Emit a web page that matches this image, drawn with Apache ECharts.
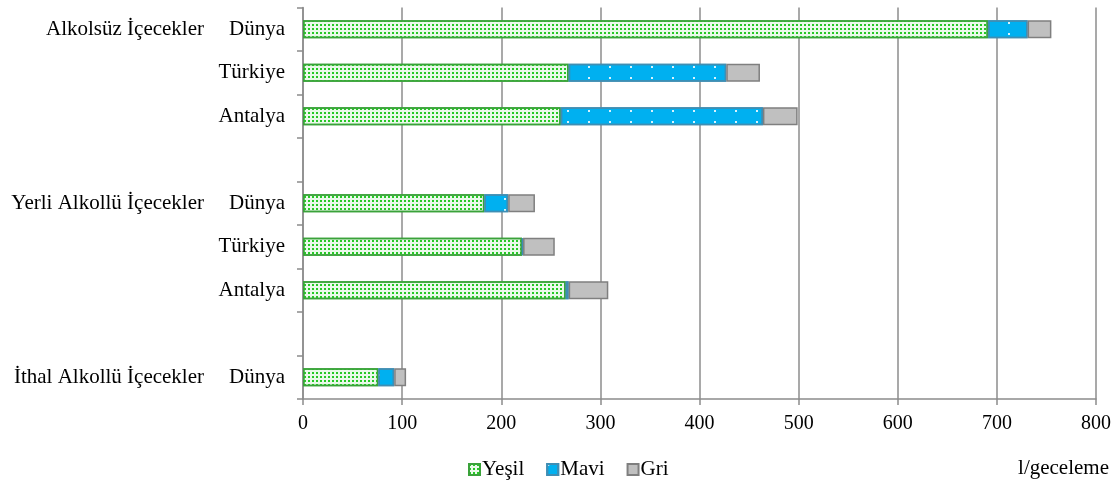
<!DOCTYPE html>
<html>
<head>
<meta charset="utf-8">
<script src="https://cdn.jsdelivr.net/npm/echarts@6/dist/echarts.min.js"></script>
<style>
  html, body { margin: 0; padding: 0; background: #fff; }
  #chart { width: 1117px; height: 480px; }
</style>
</head>
<body>
<div id="chart"></div>
<script>
// categories (top to bottom), empty entries are the spacer rows
const subLabels = ['Dünya', 'Türkiye', 'Antalya', '', 'Dünya', 'Türkiye', 'Antalya', '', 'Dünya'];
const groupLabels = ['Alkolsüz İçecekler', '', '', '', 'Yerli Alkollü İçecekler', '', '', '', 'İthal Alkollü İçecekler'];

// l/geceleme
const yesil = [691, 268, 260, null, 183, 221, 265, null, 76];
const mavi  = [40, 159, 204, null, 24, 1, 3, null, 16];
const gri   = [24, 34, 35, null, 27, 32, 40, null, 12];

const xMin = 0, xMax = 800, xStep = 100;

const font = 'Liberation Serif';
const axisGray = '#8c8c8c';

const chart = echarts.init(document.getElementById('chart'));

const option = {
    animation: false,
    textStyle: { fontFamily: font },
    grid: { left: 303, right: 21, top: 7.5, bottom: 81 },
    xAxis: {
        type: 'value',
        min: xMin,
        max: xMax,
        interval: xStep,
        axisLine: { show: true, lineStyle: { color: axisGray, width: 1.5 } },
        axisTick: { show: true, length: 6, lineStyle: { color: axisGray, width: 1.5 } },
        splitLine: { show: true, lineStyle: { color: axisGray, width: 1.5 } },
        axisLabel: { color: '#000', fontFamily: font, fontSize: 20, margin: 15 }
    },
    yAxis: [{
        type: 'category',
        inverse: true,
        data: subLabels,
        axisLine: { show: true, lineStyle: { color: axisGray, width: 1.5 } },
        axisTick: { show: true, length: 6, alignWithLabel: false, lineStyle: { color: axisGray, width: 1.5 } },
        axisLabel: { color: '#000', fontFamily: font, fontSize: 21, margin: 18, interval: 0 }
    }, {
        type: 'category',
        inverse: true,
        position: 'left',
        data: groupLabels,
        axisLine: { show: false },
        axisTick: { show: false },
        splitLine: { show: false },
        axisLabel: { color: '#000', fontFamily: font, fontSize: 21, margin: 99, interval: 0 }
    }],
    legend: {
        left: 463,
        top: 454,
        icon: 'rect',
        itemWidth: 11,
        itemHeight: 11,
        itemGap: 22,
        textStyle: { color: '#000', fontFamily: font, fontSize: 21, padding: [0, 0, 0, -3] },
        data: ['Yeşil', 'Mavi', 'Gri']
    },
    graphic: [{
        type: 'text',
        right: 8,
        top: 458,
        style: { text: 'l/geceleme', font: '21px "Liberation Serif"', fill: '#000' }
    }],
    series: [{
        name: 'Yeşil',
        type: 'bar',
        stack: 'toplam',
        barWidth: 18,
        data: yesil,
        itemStyle: {
            color: '#eaf9ea',
            borderColor: '#3aa23a',
            borderWidth: 1.5,
            decal: {
                symbol: 'rect',
                symbolSize: 1,
                color: '#26c826',
                dashArrayX: [2, 2],
                dashArrayY: [2, 2]
            }
        }
    }, {
        name: 'Mavi',
        type: 'bar',
        stack: 'toplam',
        barWidth: 18,
        data: mavi,
        itemStyle: {
            color: '#00b0f0',
            borderColor: '#3f8eb4',
            borderWidth: 1.5,
            decal: {
                symbol: 'rect',
                symbolSize: 1,
                color: 'rgba(255,255,255,0.85)',
                dashArrayX: [2, 19],
                dashArrayY: [2, 9]
            }
        }
    }, {
        name: 'Gri',
        type: 'bar',
        stack: 'toplam',
        barWidth: 18,
        data: gri,
        itemStyle: {
            color: '#c0c0c0',
            borderColor: '#7f7f7f',
            borderWidth: 1.5
        }
    }]
};

chart.setOption(option);
</script>
</body>
</html>
